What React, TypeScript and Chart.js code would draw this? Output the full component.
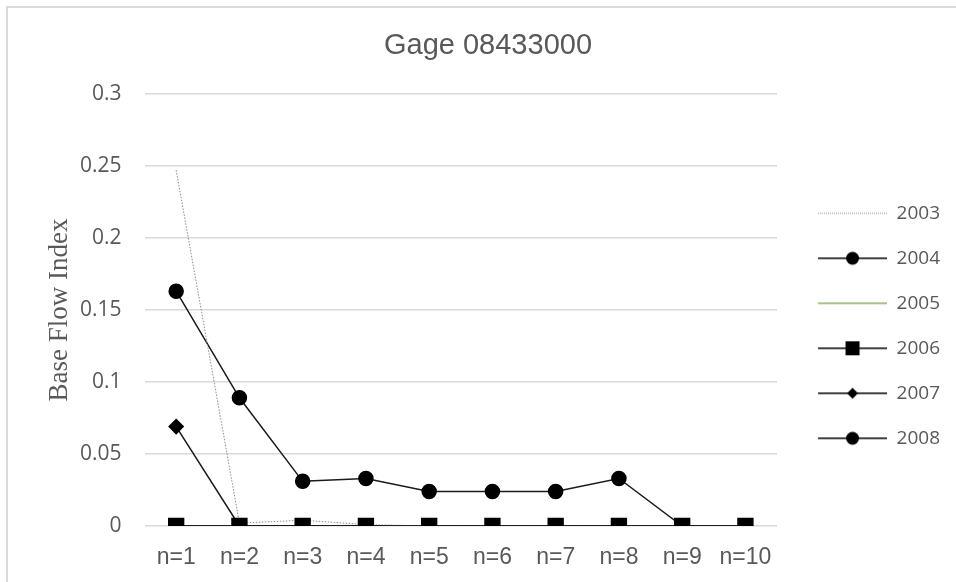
import React, { useEffect, useRef } from "react";
import { Chart, registerables } from "chart.js";

Chart.register(...registerables);

const categories = ["n=1", "n=2", "n=3", "n=4", "n=5", "n=6", "n=7", "n=8", "n=9", "n=10"];
const seriesNames = ["2003", "2004", "2005", "2006", "2007", "2008"];
const values2003 = [0.247, 0.002, 0.004, 0.001, 0, 0, 0, 0, 0, 0];
const values2004 = [0, 0, 0, 0, 0, 0, 0, 0, 0, 0];
const values2005 = [0, 0, 0, 0, 0, 0, 0, 0, 0, 0];
const values2006 = [0, 0, 0, 0, 0, 0, 0, 0, 0, 0];
const values2007 = [0.069, 0, 0, 0, 0, 0, 0, 0, 0, 0];
const values2008 = [0.163, 0.089, 0.031, 0.033, 0.024, 0.024, 0.024, 0.033, 0, 0];
const yTicks = [0, 0.05, 0.1, 0.15, 0.2, 0.25, 0.3];

type Marker = "none" | "circle" | "rect" | "rectRot";

function makeLegendImage(color: string, width: number, dash: number[], marker: Marker): HTMLCanvasElement {
  const c = document.createElement("canvas");
  c.width = 84;
  c.height = 20;
  const ctx = c.getContext("2d")!;
  ctx.strokeStyle = color;
  ctx.lineWidth = width;
  ctx.setLineDash(dash);
  ctx.beginPath();
  ctx.moveTo(15, 10);
  ctx.lineTo(84, 10);
  ctx.stroke();
  ctx.setLineDash([]);
  ctx.fillStyle = "#000";
  const cx = 49.5;
  const cy = 10;
  if (marker === "circle") {
    ctx.beginPath();
    ctx.arc(cx, cy, 6.5, 0, Math.PI * 2);
    ctx.fill();
  } else if (marker === "rect") {
    ctx.fillRect(cx - 7, cy - 7, 14, 14);
  } else if (marker === "rectRot") {
    ctx.beginPath();
    ctx.moveTo(cx - 5.5, cy);
    ctx.lineTo(cx, cy - 5.5);
    ctx.lineTo(cx + 5.5, cy);
    ctx.lineTo(cx, cy + 5.5);
    ctx.closePath();
    ctx.fill();
  }
  return c;
}

export default function App() {
  const canvasRef = useRef<HTMLCanvasElement | null>(null);

  useEffect(() => {
    if (!canvasRef.current) return;
    const legendImgs = [
      makeLegendImage("#8c8c8c", 1, [1, 1], "none"),
      makeLegendImage("#000", 1.5, [], "circle"),
      makeLegendImage("#a9c47f", 2, [], "none"),
      makeLegendImage("#000", 1.5, [], "rect"),
      makeLegendImage("#000", 1.5, [], "rectRot"),
      makeLegendImage("#000", 1.5, [], "circle"),
    ];
    const black = "#1a1a1a";
    const chart = new Chart(canvasRef.current, {
      type: "line",
      data: {
        labels: categories,
        datasets: [
          {
            label: seriesNames[0],
            data: values2003,
            borderColor: "#8c8c8c",
            borderWidth: 1,
            borderDash: [1.5, 1.5],
            pointRadius: 0,
            order: 1,
          },
          {
            label: seriesNames[1],
            data: values2004,
            borderColor: black,
            borderWidth: 1.5,
            pointStyle: "circle",
            pointRadius: 7,
            pointBackgroundColor: "#000",
            pointBorderColor: "#000",
            order: 4,
          },
          {
            label: seriesNames[2],
            data: values2005,
            borderColor: "#a9c47f",
            borderWidth: 2,
            pointRadius: 0,
            order: 5,
          },
          {
            label: seriesNames[3],
            data: values2006,
            borderColor: black,
            borderWidth: 1.5,
            pointStyle: "rect",
            pointRadius: 10.5,
            pointBackgroundColor: "#000",
            pointBorderColor: "#000",
            order: 0,
          },
          {
            label: seriesNames[4],
            data: values2007,
            borderColor: black,
            borderWidth: 1.5,
            pointStyle: "rectRot",
            pointRadius: 7,
            pointBackgroundColor: "#000",
            pointBorderColor: "#000",
            order: 3,
          },
          {
            label: seriesNames[5],
            data: values2008,
            borderColor: black,
            borderWidth: 1.5,
            pointStyle: "circle",
            pointRadius: 7,
            pointBackgroundColor: "#000",
            pointBorderColor: "#000",
            order: 2,
          },
        ],
      },
      options: {
        animation: false,
        responsive: true,
        maintainAspectRatio: false,
        layout: { padding: { left: 26, right: 6, top: 0, bottom: -7.6 } },
        plugins: {
          tooltip: { enabled: false },
          title: {
            display: true,
            text: "Gage 08433000",
            color: "#595959",
            font: { family: "'Liberation Sans', Arial, sans-serif", size: 29, weight: "normal" },
            padding: { top: 29, bottom: 30 },
          },
          legend: {
            display: true,
            position: "right",
            align: "center",
            title: {
              display: true,
              text: "",
              font: { size: 10 },
              padding: { top: 50, bottom: 0 },
            },
            labels: {
              usePointStyle: true,
              pointStyleWidth: 84,
              padding: 26,
              color: "#595959",
              font: { family: "'Open Sans', sans-serif", size: 19 },
              generateLabels: (ch: any) =>
                ch.data.datasets.map((ds: any, i: number) => ({
                  text: ds.label,
                  pointStyle: legendImgs[i],
                  datasetIndex: i,
                  hidden: false,
                  fillStyle: "#000",
                  strokeStyle: "#000",
                  lineWidth: 0,
                  rotation: 0,
                  fontColor: "#595959",
                })),
            },
          },
        },
        scales: {
          x: {
            offset: true,
            grid: { display: false, drawTicks: false },
            border: { display: false },
            ticks: {
              color: "#595959",
              padding: 18,
              font: { family: "'Liberation Sans', Arial, sans-serif", size: 23 },
              maxRotation: 0,
            },
          },
          y: {
            min: 0,
            max: 0.3,
            afterBuildTicks: (scale: any) => {
              scale.ticks = yTicks.map((v) => ({ value: v }));
            },
            grid: { color: "#d9d9d9", lineWidth: 1.5, drawTicks: false },
            border: { display: false },
            ticks: {
              color: "#595959",
              padding: 23,
              font: { family: "'Open Sans', sans-serif", size: 21 },
              callback: (v: any) => String(Number(Number(v).toFixed(2))),
            },
            title: {
              display: true,
              text: "Base Flow Index",
              color: "#595959",
              font: { family: "'Liberation Serif', 'Times New Roman', serif", size: 27, weight: "normal" },
              padding: { top: 17.8, bottom: -19.2 },
            },
          },
        },
      },
    });
    return () => chart.destroy();
  }, []);

  return (
    <>
      <div
        style={{
          position: "fixed",
          left: 6,
          top: 6,
          width: 2000,
          height: 2000,
          borderLeft: "2px solid #d9d9d9",
          borderTop: "2px solid #d9d9d9",
          boxSizing: "border-box",
        }}
      />
      <div style={{ position: "fixed", left: 0, top: 0, width: 956, height: 582 }}>
        <canvas ref={canvasRef} />
      </div>
    </>
  );
}
